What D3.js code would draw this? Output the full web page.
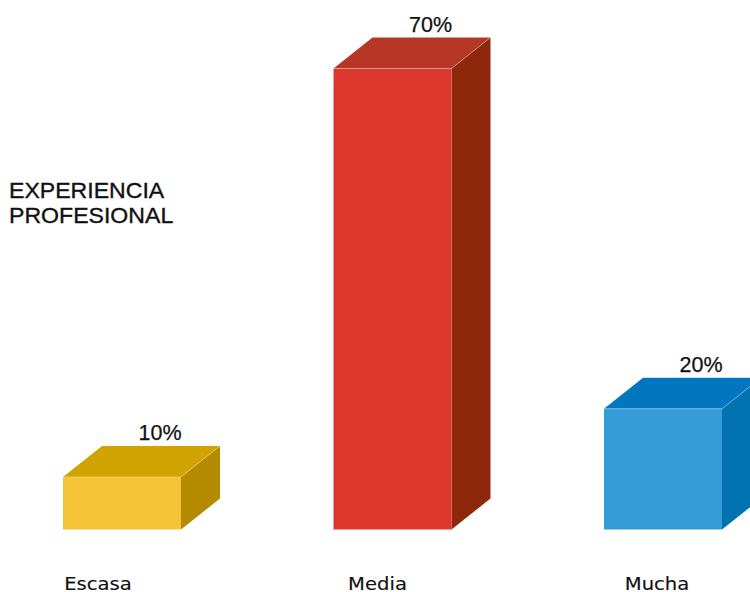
<!DOCTYPE html>
<html>
<head>
<meta charset="utf-8">
<script src="https://cdn.jsdelivr.net/npm/d3@7"></script>
<style>
  html, body { margin: 0; padding: 0; background: #fff; }
  svg { display: block; }
</style>
</head>
<body>
<svg id="chart" width="750" height="592"></svg>
<script>
const categories = ["Escasa", "Media", "Mucha"];
const values = [10, 70, 20];
const valueLabels = ["10%", "70%", "20%"];
const titleLines = ["EXPERIENCIA", "PROFESIONAL"];
const frontColors = ["#f4c436", "#de382e", "#339bd6"];
const topColors = ["#d1a300", "#b73727", "#0277c0"];
const sideColors = ["#b48a00", "#8e280c", "#0172b0"];

const svg = d3.select("#chart");
const baseY = 529.5;
const depthX = 39, depthY = -31;

const x = d3.scaleBand().domain(categories).range([63, 722]).paddingInner(0.5638).paddingOuter(0);
const y = d3.scaleLinear().domain([0, 70]).range([545, 68.5]);
const xLabel = d3.scalePoint().domain(categories).range([98, 657]);

const data = categories.map((c, i) => ({ c, v: values[i], lab: valueLabels[i], i }));

const g = svg.append("g");
const bars = g.selectAll("g.bar").data(data).join("g").attr("class", "bar");

bars.each(function (d) {
  const sel = d3.select(this);
  const x0 = x(d.c), x1 = x0 + x.bandwidth();
  const yt = y(d.v);
  sel.append("path")
    .attr("d", `M${x1},${yt}L${x1 + depthX},${yt + depthY}L${x1 + depthX},${baseY + depthY}L${x1},${baseY}Z`)
    .attr("fill", sideColors[d.i]);
  sel.append("path")
    .attr("d", `M${x0},${yt}L${x0 + depthX},${yt + depthY}L${x1 + depthX},${yt + depthY}L${x1},${yt}Z`)
    .attr("fill", topColors[d.i]);
  sel.append("rect")
    .attr("x", x0).attr("y", yt)
    .attr("width", x.bandwidth()).attr("height", baseY - yt)
    .attr("fill", frontColors[d.i]);
  sel.append("path")
    .attr("d", `M${x0},${yt}L${x1},${yt}L${x1 + depthX},${yt + depthY}`)
    .attr("fill", "none")
    .attr("stroke", "rgba(255,255,255,0.3)")
    .attr("stroke-width", 1);
  sel.append("text")
    .attr("x", x0 + depthX + x.bandwidth() / 2 - 1)
    .attr("y", yt + depthY - 6)
    .attr("text-anchor", "middle")
    .attr("font-family", "'Liberation Sans', Arial, sans-serif")
    .attr("font-size", 21.5)
    .attr("fill", "#111")
    .attr("stroke", "#111")
    .attr("stroke-width", 0.25)
    .text(d.lab);
});

// category labels (slightly wide lettering, as in the reference)
g.selectAll("text.cat").data(data).join("text")
  .attr("class", "cat")
  .attr("transform", d => `translate(${xLabel(d.c)},589.5) scale(1.12,1)`)
  .attr("text-anchor", "middle")
  .attr("font-family", "'DejaVu Sans', sans-serif")
  .attr("font-size", 17.5)
  .attr("fill", "#111")
  .attr("stroke", "#111")
  .attr("stroke-width", 0.15)
  .text(d => d.c);

// title (two lines)
svg.selectAll("text.title").data(titleLines).join("text")
  .attr("class", "title")
  .attr("transform", (d, i) => `translate(9,${197.5 + i * 25}) scale(1.05,1)`)
  .attr("font-family", "'Liberation Sans', Arial, sans-serif")
  .attr("font-size", 22)
  .attr("fill", "#111")
  .attr("stroke", "#111")
  .attr("stroke-width", 0.35)
  .text(d => d);
</script>
</body>
</html>
